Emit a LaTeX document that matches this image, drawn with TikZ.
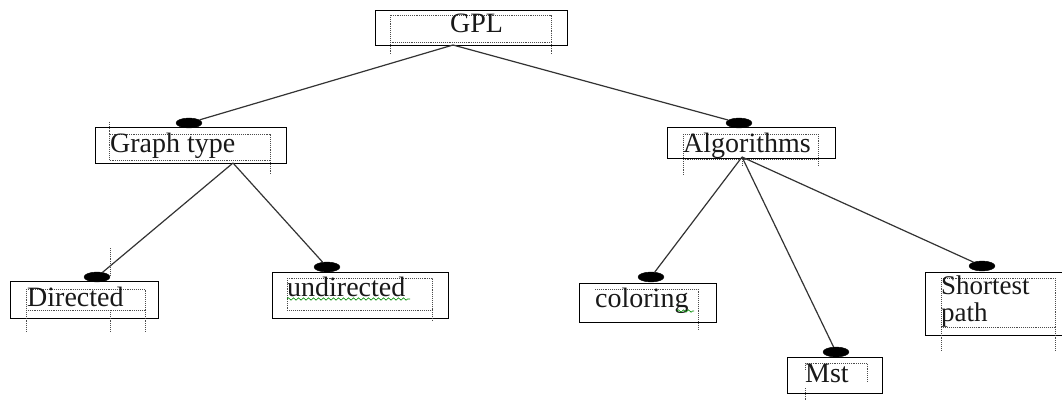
\documentclass[tikz,border=0pt]{standalone}
\usepackage{fontspec}
\setmainfont{Liberation Serif}
\usetikzlibrary{shapes.geometric,decorations.pathmorphing}
\begin{document}
\begin{tikzpicture}[x=1pt,y=-1pt,
  box/.style={draw=black, line width=1.3pt, rectangle, inner sep=0pt, anchor=north west},
  label/.style={inner sep=0pt, anchor=base west, font=\fontsize{28}{25}\selectfont, text=black!90},
  knob/.style={ellipse, fill=black, draw=black, inner sep=0pt, minimum width=26pt, minimum height=10pt},
  edge/.style={line width=1.2pt, draw=black!80},
  guide/.style={densely dotted, line width=0.9pt, draw=black!70},
  squiggle/.style={draw=green!55!black, line width=0.6pt, decorate,
    decoration={snake, amplitude=1.2pt, segment length=5pt}}]
\useasboundingbox (0,0) rectangle (1062,401);
\fill[white] (0,0) rectangle (1062,401);

% outer frames
\node[box, minimum width=192pt, minimum height=35pt] (gpl) at (375,10) {};
\node[box, minimum width=191pt, minimum height=36pt] (graph) at (95,127) {};
\node[box, minimum width=168pt, minimum height=31pt] (algo) at (667,127) {};
\node[box, minimum width=148pt, minimum height=37pt] (dir) at (10,281) {};
\node[box, minimum width=176pt, minimum height=46pt] (undir) at (272,272) {};
\node[box, minimum width=137pt, minimum height=39pt] (color) at (579,283) {};
\node[box, minimum width=145pt, minimum height=63pt] (short) at (925,272) {};
\node[box, minimum width=95pt, minimum height=36pt] (mst) at (787,357) {};

% dotted text frames
\draw[guide] (390,15) rectangle (551,42) (390,42) -- (390,55) (551,42) -- (551,55);
\draw[guide] (109,134) rectangle (270,160) (109,122) -- (109,134) (270,160) -- (270,175);
\draw[guide] (683,134) rectangle (818,159) (683,159) -- (683,175) (818,159) -- (818,165) (742,159) -- (742,165);
\draw[guide] (26,289) rectangle (145,310) (26,310) -- (26,332) (110,310) -- (110,332) (145,310) -- (145,332) (110,248) -- (110,275);
\draw[guide] (287,278) rectangle (432,310) (432,310) -- (432,320);
\draw[guide] (595,289) -- (698,289) -- (698,330);
\draw[guide] (941,278) rectangle (1055,327) (941,327) -- (941,350) (1055,327) -- (1055,350);
\draw[guide] (805,363) -- (867,363) -- (867,382) (805,363) -- (805,370) (805,388) -- (805,400);

% texts
\node[label] (tgpl) at (450,33) {GPL};
\node[label] (tgraph) at (110,152) {Graph type};
\node[label] (talgo) at (683,152) {Algorithms};
\node[label] (tdir) at (27,306) {Directed};
\node[label] (tundir) at (287,296) {undirected};
\node[label] (tcolor) at (595,307) {coloring};
\node[label, font=\fontsize{27}{27}\selectfont, anchor=north west, align=left] (tshort) at (941,276) {Shortest\\path};
\node[label] (tmst) at (805,382) {Mst};

% spelling marks
\draw[squiggle] (287,299) -- (410,299);
\draw[squiggle] (677,311) -- (694,311);

% joints on each child frame
\node[knob] (kgraph) at (189,123) {};
\node[knob] (kalgo) at (739,123) {};
\node[knob] (kdir) at (97,277) {};
\node[knob] (kundir) at (327,267) {};
\node[knob] (kcolor) at (651,277) {};
\node[knob] (kshort) at (982,266) {};
\node[knob] (kmst) at (836,352) {};

% branch points under parent frames
\coordinate (fgpl) at (453,45);
\coordinate (fgraph) at (233,163);
\coordinate (falgo) at (742,157);

% connectors
\draw[edge] (fgpl) -- (kgraph);
\draw[edge] (fgpl) -- (kalgo);
\draw[edge] (fgraph) -- (kdir);
\draw[edge] (fgraph) -- (kundir);
\draw[edge] (falgo) -- (kcolor);
\draw[edge] (falgo) -- (kmst);
\draw[edge] (falgo) -- (kshort);
\end{tikzpicture}
\end{document}
